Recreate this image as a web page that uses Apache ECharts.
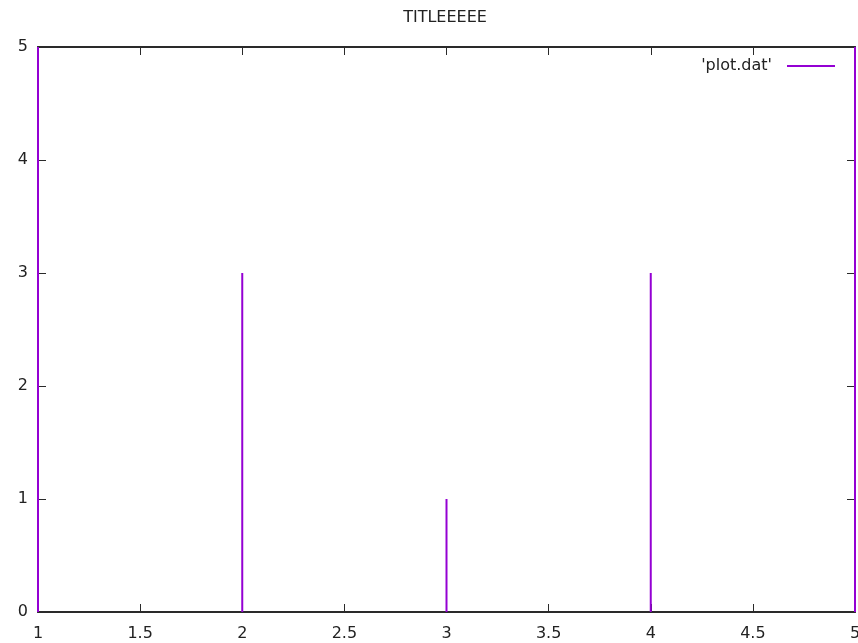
<!DOCTYPE html>
<html><head><meta charset="utf-8">
<script src="https://cdn.jsdelivr.net/npm/echarts@6/dist/echarts.min.js"></script>
<style>html,body{margin:0;padding:0;background:#fff}#c{width:858px;height:643px}</style>
</head><body><div id="c"></div>
<script>
const titleText = "TITLEEEEE";
const seriesName = "'plot.dat'";
const xValues = [1, 2, 3, 4, 5];
const yValues = [5, 3, 1, 3, 5];
const xTickLabels = ["1", "1.5", "2", "2.5", "3", "3.5", "4", "4.5", "5"];
const yTickLabels = ["0", "1", "2", "3", "4", "5"];

const font = "'DejaVu Sans', sans-serif";
const fs = 16;
const lineCol = "#2a2a2a";
const chart = echarts.init(document.getElementById('c'), null, {renderer: 'canvas'});
const axisCommon = {
  axisLine: {show: true, onZero: false, lineStyle: {color: lineCol, width: 2}},
  axisTick: {show: true, inside: true, length: 8, lineStyle: {color: lineCol, width: 1}},
  splitLine: {show: false}
};
chart.setOption({
  animation: false,
  backgroundColor: '#fff',
  title: {text: titleText, left: 440, top: 5, textAlign: 'center',
    textStyle: {fontFamily: font, fontSize: fs, fontWeight: 'normal', color: '#222'}},
  legend: {show: true, right: 18, top: 53, align: 'right', itemWidth: 48, itemHeight: 2, itemGap: 10,
    icon: 'rect', textStyle: {fontFamily: font, fontSize: fs, color: '#222', padding: [0, 10, 0, 0]},
    data: [{name: seriesName}]},
  grid: {left: 38, right: 3, top: 47, bottom: 31, containLabel: false, outerBoundsMode: 'none'},
  xAxis: [
    Object.assign({type: 'value', min: 1, max: 5, interval: 0.5, position: 'bottom',
      axisLabel: {show: true, margin: 14, fontFamily: font, fontSize: fs, color: '#222',
        hideOverlap: false, showMaxLabel: true,
        formatter: (v) => xTickLabels[Math.round((v - 1) / 0.5)]}}, axisCommon),
    Object.assign({type: 'value', min: 1, max: 5, interval: 0.5, position: 'top',
      axisLabel: {show: false}}, axisCommon)
  ],
  yAxis: [
    Object.assign({type: 'value', min: 0, max: 5, interval: 1, position: 'left',
      axisLabel: {show: true, margin: 10, fontFamily: font, fontSize: fs, color: '#222',
        formatter: (v) => yTickLabels[Math.round(v)]}}, axisCommon),
    Object.assign({type: 'value', min: 0, max: 5, interval: 1, position: 'right',
      axisLabel: {show: false}}, axisCommon)
  ],
  series: [{
    name: seriesName, type: 'bar', xAxisIndex: 0, yAxisIndex: 0,
    barWidth: 2, clip: false,
    itemStyle: {color: '#9400d3'},
    data: xValues.map((x, i) => [x, yValues[i]]),
    z: 5
  }]
});
</script></body></html>
